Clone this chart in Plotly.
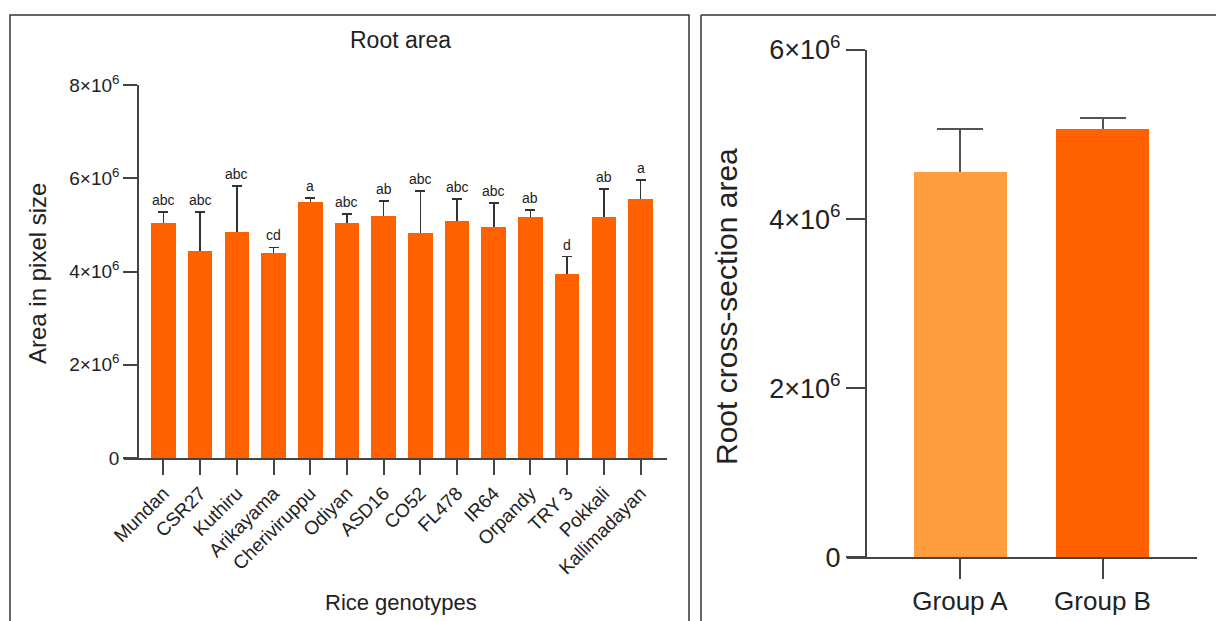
import plotly.graph_objects as go

W, H = 1216, 621
FONT = "Liberation Sans, Arial, sans-serif"
TXT = "#222222"
AX = "#444444"

genotypes = ["Mundan", "CSR27", "Kuthiru", "Arikayama", "Cheriviruppu", "Odiyan", "ASD16",
             "CO52", "FL478", "IR64", "Orpandy", "TRY 3", "Pokkali", "Kallimadayan"]
area_mean = [5.03e6, 4.44e6, 4.85e6, 4.39e6, 5.49e6, 5.03e6, 5.19e6,
             4.82e6, 5.09e6, 4.96e6, 5.17e6, 3.94e6, 5.17e6, 5.55e6]
area_err = [0.25e6, 0.84e6, 0.98e6, 0.13e6, 0.09e6, 0.20e6, 0.32e6,
            0.91e6, 0.46e6, 0.51e6, 0.15e6, 0.38e6, 0.60e6, 0.41e6]
letters = ["abc", "abc", "abc", "cd", "a", "abc", "ab",
           "abc", "abc", "abc", "ab", "d", "ab", "a"]
left_ticks = [0, 2e6, 4e6, 6e6, 8e6]
left_ticktext = ["0", "2×10<sup>6</sup>", "4×10<sup>6</sup>", "6×10<sup>6</sup>", "8×10<sup>6</sup>"]

groups = ["Group A", "Group B"]
group_mean = [4.56e6, 5.07e6]
group_err = [0.51e6, 0.13e6]
group_colors = ["#FF9D3F", "#FF6000"]
right_ticks = [0, 2e6, 4e6, 6e6]
right_ticktext = ["0", "2×10<sup>6</sup>", "4×10<sup>6</sup>", "6×10<sup>6</sup>"]


def px(x):
    return x / W


def py(y):
    return 1 - y / H


fig = go.Figure()
left_x = list(range(len(genotypes)))

# error bars first (transparent bars), real bars drawn on top hide the lower half
fig.add_trace(go.Bar(
    x=left_x, y=area_mean, width=0.67,
    marker=dict(color="rgba(0,0,0,0)", line=dict(width=0)),
    error_y=dict(type="data", array=area_err, color="#333333", thickness=1.5, width=5),
    xaxis="x", yaxis="y", showlegend=False, hoverinfo="skip",
))
fig.add_trace(go.Bar(
    x=left_x, y=area_mean, width=0.67,
    marker=dict(color="#FF6000", line=dict(width=0)),
    xaxis="x", yaxis="y", showlegend=False,
))

fig.add_trace(go.Bar(
    x=[0, 1], y=group_mean, width=0.655,
    marker=dict(color="rgba(0,0,0,0)", line=dict(width=0)),
    error_y=dict(type="data", array=group_err, color="#555555", thickness=2, width=23),
    xaxis="x2", yaxis="y2", showlegend=False, hoverinfo="skip",
))
fig.add_trace(go.Bar(
    x=[0, 1], y=group_mean, width=0.655,
    marker=dict(color=group_colors, line=dict(width=0)),
    xaxis="x2", yaxis="y2", showlegend=False,
))

# letters above error bars
for i, (m, e, t) in enumerate(zip(area_mean, area_err, letters)):
    fig.add_annotation(x=i, y=m + e, xref="x", yref="y", text=t, showarrow=False,
                       yanchor="bottom", yshift=2, font=dict(size=14, color=TXT, family=FONT))

annos = [
    dict(x=px(400), y=py(40), text="Root area", size=23),
    dict(x=px(401), y=py(602), text="Rice genotypes", size=22),
]
for a in annos:
    fig.add_annotation(x=a["x"], y=a["y"], xref="paper", yref="paper", text=a["text"],
                       showarrow=False, xanchor="center", yanchor="middle",
                       font=dict(size=a["size"], color=TXT, family=FONT))
fig.add_annotation(x=px(37), y=py(274), xref="paper", yref="paper", text="Area in pixel size",
                   showarrow=False, textangle=-90, xanchor="center", yanchor="middle",
                   font=dict(size=24, color=TXT, family=FONT))
fig.add_annotation(x=px(726), y=py(307), xref="paper", yref="paper", text="Root cross-section area",
                   showarrow=False, textangle=-90, xanchor="center", yanchor="middle",
                   font=dict(size=30, color=TXT, family=FONT))

# panel frames
frame = dict(color="#333333", width=1.5)
fig.add_shape(type="rect", xref="paper", yref="paper", x0=px(10), y0=py(15), x1=px(689), y1=py(640),
              line=frame, layer="above")
fig.add_shape(type="line", xref="paper", yref="paper", x0=px(701), y0=py(15), x1=px(1220), y1=py(15), line=frame)
fig.add_shape(type="line", xref="paper", yref="paper", x0=px(701), y0=py(15), x1=px(701), y1=py(640), line=frame)

common = dict(showline=True, linecolor=AX, linewidth=1.5, ticks="outside", tickwidth=1.5,
              tickcolor=AX, showgrid=False, zeroline=False, fixedrange=True, automargin=False)

fig.update_layout(
    width=W, height=H, margin=dict(l=0, r=0, t=0, b=0, pad=0), autosize=False,
    paper_bgcolor="white", plot_bgcolor="white", bargap=0, barmode="overlay",
    font=dict(family=FONT, color=TXT),
    xaxis=dict(domain=[px(124), px(667)], range=[-1.076, 13.72], anchor="y",
               tickmode="array", tickvals=left_x, ticktext=genotypes,
               tickangle=-45, tickfont=dict(size=19, color=TXT, family=FONT), ticklen=15, **common),
    yaxis=dict(domain=[py(458), py(85)], range=[0, 8e6], anchor="free", position=px(138),
               tickmode="array", tickvals=left_ticks, ticktext=left_ticktext,
               tickfont=dict(size=19, color=TXT, family=FONT), ticklen=14, **common),
    xaxis2=dict(domain=[px(846.7), px(1197)], range=[-0.795, 1.663], anchor="y2",
                tickmode="array", tickvals=[0, 1], ticktext=groups,
                tickfont=dict(size=26, color=TXT, family=FONT), ticklen=20, **common),
    yaxis2=dict(domain=[py(557.3), py(50)], range=[0, 6e6], anchor="free", position=px(865.7),
                tickmode="array", tickvals=right_ticks, ticktext=right_ticktext,
                tickfont=dict(size=27, color=TXT, family=FONT), ticklen=19, **common),
)

fig.write_html("out.html")
